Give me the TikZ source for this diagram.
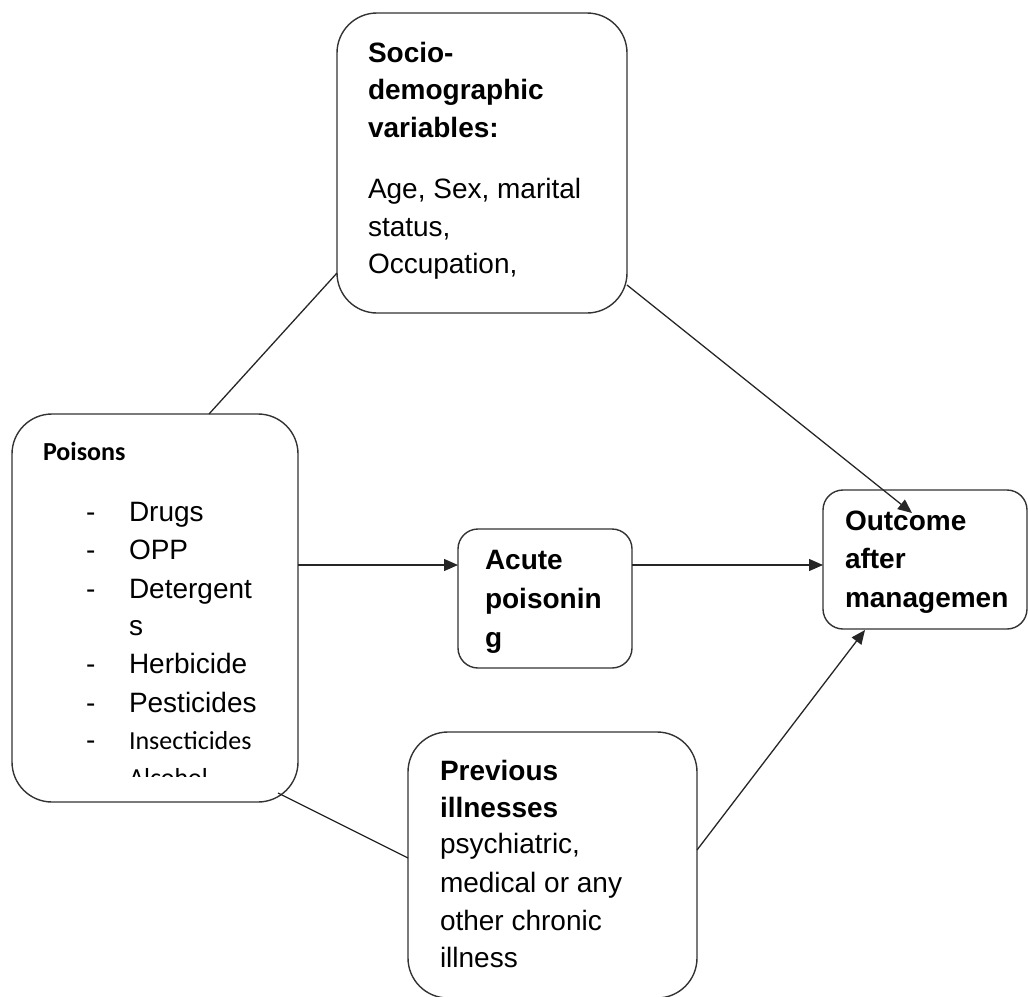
\documentclass[tikz,border=0pt]{standalone}
\usepackage{fontspec}
\setmainfont{Liberation Sans}
\newfontfamily\calib{Carlito}
\usetikzlibrary{arrows.meta}
\begin{document}
\begin{tikzpicture}[x=1pt,y=-1pt,
  box/.style={draw=black!80, line width=1.4pt, rounded corners=#1, inner sep=0pt, outer sep=0pt},
  box/.default=20pt,
  txt/.style={anchor=base west, inner sep=0pt, outer sep=0pt, font=\fontsize{28}{34}\selectfont},
  btxt/.style={anchor=base west, inner sep=0pt, outer sep=0pt, font=\fontsize{28}{34}\selectfont\bfseries},
  ctxt/.style={anchor=base west, inner sep=0pt, outer sep=0pt, font=\fontsize{26}{30}\selectfont\calib},
  cbtxt/.style={anchor=base west, inner sep=0pt, outer sep=0pt, font=\fontsize{26}{30}\selectfont\calib\bfseries},
  link/.style={draw=black!85, line width=1.3pt},
  arr/.style={link, -{Triangle[length=14pt,width=12pt]}}]

\useasboundingbox (0,0) rectangle (1028,996);

% boxes
\node[box=40pt, minimum width=290pt, minimum height=300pt] (socio) at (482,163) {};
\node[box=40pt, minimum width=286pt, minimum height=388pt] (poisons) at (155,608) {};
\node[box=20pt, minimum width=174pt, minimum height=139pt] (acute) at (545,598.5) {};
\node[box=20pt, minimum width=204pt, minimum height=139pt] (outcome) at (925,559.5) {};
\node[box=40pt, minimum width=289pt, minimum height=266pt] (previous) at (552.5,865) {};

% socio text
\node[btxt] (s1) at (368,62) {Socio-};
\node[btxt] (s2) at (368,99) {demographic};
\node[btxt] (s3) at (368,137) {variables:};
\node[txt] (s4) at (368,198) {Age, Sex, marital};
\node[txt] (s5) at (368,236) {status,};
\node[txt] (s6) at (368,273) {Occupation,};

% poisons text
\node[cbtxt] (p0) at (43,460) {Poisons};
\node[txt] (d1) at (86,521) {-};
\node[txt] (p1) at (129,521) {Drugs};
\node[txt] (d2) at (86,559) {-};
\node[txt] (p2) at (129,559) {OPP};
\node[txt] (d3) at (86,598) {-};
\node[txt] (p3) at (129,598) {Detergent};
\node[txt] (p3b) at (129,635) {s};
\node[txt] (d4) at (86,673) {-};
\node[txt] (p4) at (129,673) {Herbicide};
\node[txt] (d5) at (86,712) {-};
\node[txt] (p5) at (129,712) {Pesticides};
\node[txt] (d6) at (86,749) {-};
\node[ctxt] (p6) at (129,749) {Insecticides};
\begin{scope}
  \clip (12,414) rectangle (298,776);
  \node[ctxt] (p7) at (129,786) {Alcohol};
\end{scope}

% acute text
\node[btxt] (a1) at (485,569) {Acute};
\node[btxt] (a2) at (485,608) {poisonin};
\node[btxt] (a3) at (485,647) {g};

% outcome text
\node[btxt] (o1) at (845,530) {Outcome};
\node[btxt] (o2) at (845,568) {after};
\node[btxt] (o3) at (845,607) {managemen};

% previous text
\node[btxt] (v1) at (440,780) {Previous};
\node[btxt] (v2) at (440,817) {illnesses};
\node[txt] (v3) at (440,853) {psychiatric,};
\node[txt] (v4) at (440,892) {medical or any};
\node[txt] (v5) at (440,930) {other chronic};
\node[txt] (v6) at (440,967) {illness};

% connector end points
\coordinate (sp1) at (337,273);
\coordinate (sp2) at (209,414);
\coordinate (so1) at (627,285);
\coordinate (so2) at (912,513);
\coordinate (pa1) at (298,565);
\coordinate (pa2) at (458,565);
\coordinate (ao1) at (632,565);
\coordinate (ao2) at (823,565);
\coordinate (pv1) at (278,793);
\coordinate (pv2) at (408,858);
\coordinate (vo1) at (697,850);
\coordinate (vo2) at (865,630);

% connectors
\draw[link] (sp1) -- (sp2);
\draw[arr] (so1) -- (so2);
\draw[arr] (pa1) -- (pa2);
\draw[arr] (ao1) -- (ao2);
\draw[link] (pv1) -- (pv2);
\draw[arr] (vo1) -- (vo2);
\end{tikzpicture}
\end{document}
